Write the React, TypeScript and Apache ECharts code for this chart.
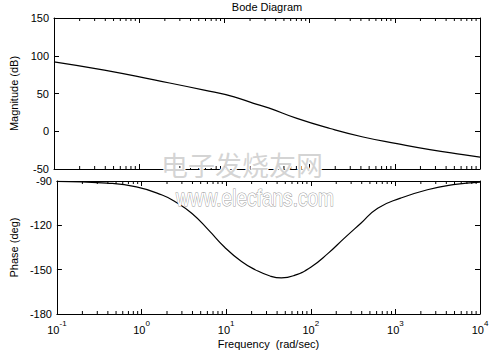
import React, { useEffect, useRef } from "react";
import * as echarts from "echarts";

const TITLE = "Bode Diagram";
const X_NAME = "Frequency  (rad/sec)";
const MAG_NAME = "Magnitude (dB)";
const PHASE_NAME = "Phase (deg)";

// frequency (rad/sec) -> magnitude (dB)
const MAG_FREQ = [0.1, 0.39, 1.5, 5.8, 13, 22, 33, 71, 174, 424, 1060, 2580, 6310, 10000];
const MAG_DB = [92, 81, 68, 54.5, 45.6, 37, 31, 17, 3.6, -7.6, -16.4, -24.3, -31, -34.2];

// frequency (rad/sec) -> phase (deg)
const PH_FREQ = [0.1, 0.39, 0.87, 1.75, 2.5, 3.95, 6.25, 9.6, 15.2, 22, 33, 45, 64, 101, 160, 246, 391, 618, 1150, 2390, 4820, 10000];
const PH_DEG = [-90.2, -91.4, -94, -99.5, -104, -112, -123.4, -134.8, -144.5, -150, -154.3, -155.6, -153.9, -148.2, -139, -129, -118.6, -108.4, -101.6, -95.9, -92.5, -90.7];

// axis ranges
const X_MIN = 0.1;
const X_MAX = 10000;
const MAG_MIN = -50;
const MAG_MAX = 150;
const MAG_STEP = 50;
const PH_MIN = -180;
const PH_MAX = -90;
const PH_STEP = 30;

// log-paper minor ticks
const DECADES = [0.1, 1, 10, 100, 1000];
const MULTS = [2, 3, 4, 5, 6, 7, 8, 9];
const MINOR = DECADES.flatMap((d) => MULTS.map((m) => +(d * m).toPrecision(3)));

const WATERMARK_CN = "电子发烧友网";
const WATERMARK_EN = "www.elecfans.com";

const FONT = "Liberation Sans, Arial, sans-serif";

export default function App() {
  const ref = useRef<HTMLDivElement>(null);
  useEffect(() => {
    if (!ref.current) return;
    const chart = echarts.init(ref.current, null, { renderer: "svg" });
    const lineStyle = { color: "#000", width: 1 };
    const grids = [
      { left: 54, right: 20, top: 18, height: 151 },
      { left: 54, right: 20, top: 181, height: 133 },
    ];
    const mkX = (gi: number, pos: "top" | "bottom", labels: boolean): any => ({
      type: "log",
      logBase: 10,
      gridIndex: gi,
      position: pos,
      min: X_MIN,
      max: X_MAX,
      splitNumber: 5,
      axisLine: { show: true, onZero: false, lineStyle },
      axisTick: { show: true, inside: true, length: 5, lineStyle },
      splitLine: { show: false },
      axisLabel: labels
        ? {
            show: true,
            margin: 5,
            fontFamily: FONT,
            formatter: (v: number) => {
              const e = Math.round(Math.log10(v));
              return `{b|10}{s|${e}}`;
            },
            rich: {
              b: { fontSize: 11, fontFamily: FONT, color: "#000", verticalAlign: "bottom", lineHeight: 16 },
              s: { fontSize: 8, fontFamily: FONT, color: "#000", verticalAlign: "top", lineHeight: 10 },
            },
          }
        : { show: false },
      name: labels ? X_NAME : "",
      nameLocation: "middle",
      nameGap: 24,
      nameTextStyle: { fontSize: 11, fontFamily: FONT, color: "#000" },
    });
    const mkY = (gi: number, pos: "left" | "right", labels: boolean, min: number, max: number, step: number, name: string, gap: number): any => ({
      type: "value",
      gridIndex: gi,
      position: pos,
      min,
      max,
      interval: step,
      axisLine: { show: true, onZero: false, lineStyle },
      axisTick: { show: true, inside: true, length: 5, lineStyle },
      splitLine: { show: false },
      axisLabel: labels ? { show: true, margin: 5, fontSize: 11, fontFamily: FONT, color: "#000" } : { show: false },
      name: labels ? name : "",
      nameLocation: "middle",
      nameGap: gap,
      nameTextStyle: { fontSize: 11, fontFamily: FONT, color: "#000" },
    });
    const minorSeries = (xi: number, yi: number, ymin: number, ymax: number): any => ({
      type: "custom",
      xAxisIndex: xi,
      yAxisIndex: yi,
      silent: true,
      clip: false,
      data: MINOR.map((f) => [f, ymin]),
      renderItem: (_p: any, api: any) => {
        const f = api.value(0);
        const b = api.coord([f, ymin]);
        const t = api.coord([f, ymax]);
        return {
          type: "group",
          children: [
            { type: "line", shape: { x1: b[0], y1: b[1], x2: b[0], y2: b[1] - 3 }, style: { stroke: "#000", lineWidth: 1 } },
            { type: "line", shape: { x1: t[0], y1: t[1], x2: t[0], y2: t[1] + 3 }, style: { stroke: "#000", lineWidth: 1 } },
          ],
        };
      },
    });
    chart.setOption({
      animation: false,
      backgroundColor: "#fff",
      title: {
        text: TITLE,
        left: 267,
        textAlign: "center",
        top: 1,
        padding: 0,
        textStyle: { fontSize: 11, fontWeight: "normal", fontFamily: FONT, color: "#000" },
      },
      grid: grids,
      xAxis: [mkX(0, "bottom", false), mkX(0, "top", false), mkX(1, "bottom", true), mkX(1, "top", false)],
      yAxis: [
        mkY(0, "left", true, MAG_MIN, MAG_MAX, MAG_STEP, MAG_NAME, 25),
        mkY(0, "right", false, MAG_MIN, MAG_MAX, MAG_STEP, "", 0),
        mkY(1, "left", true, PH_MIN, PH_MAX, PH_STEP, PHASE_NAME, 30),
        mkY(1, "right", false, PH_MIN, PH_MAX, PH_STEP, "", 0),
      ],
      series: [
        {
          type: "line",
          xAxisIndex: 0,
          yAxisIndex: 0,
          data: MAG_FREQ.map((f, i) => [f, MAG_DB[i]]),
          showSymbol: false,
          smooth: 0.5,
          lineStyle: { color: "#000", width: 1.2 },
        },
        {
          type: "line",
          xAxisIndex: 2,
          yAxisIndex: 2,
          data: PH_FREQ.map((f, i) => [f, PH_DEG[i]]),
          showSymbol: false,
          smooth: 0.5,
          lineStyle: { color: "#000", width: 1.2 },
        },
        minorSeries(0, 0, MAG_MIN, MAG_MAX),
        minorSeries(2, 2, PH_MIN, PH_MAX),
      ],
      graphic: [
        {
          type: "text",
          z: 100,
          left: 160,
          top: 150,
          style: {
            text: WATERMARK_CN,
            fontSize: 27,
            fontFamily: "Noto Sans CJK SC",
            fill: "rgba(205,205,205,0.85)",
            stroke: "#fff",
            lineWidth: 2,
          },
        },
        {
          type: "text",
          z: 100,
          x: 176,
          y: 186,
          scaleX: 0.83,
          style: {
            text: WATERMARK_EN,
            fontSize: 23,
            fontFamily: FONT,
            fill: "#fff",
            stroke: "#9a9a9a",
            lineWidth: 1,
          },
        },
      ],
    });
    return () => chart.dispose();
  }, []);
  return <div ref={ref} style={{ width: 500, height: 356, position: "absolute", left: 0, top: 0 }} />;
}
